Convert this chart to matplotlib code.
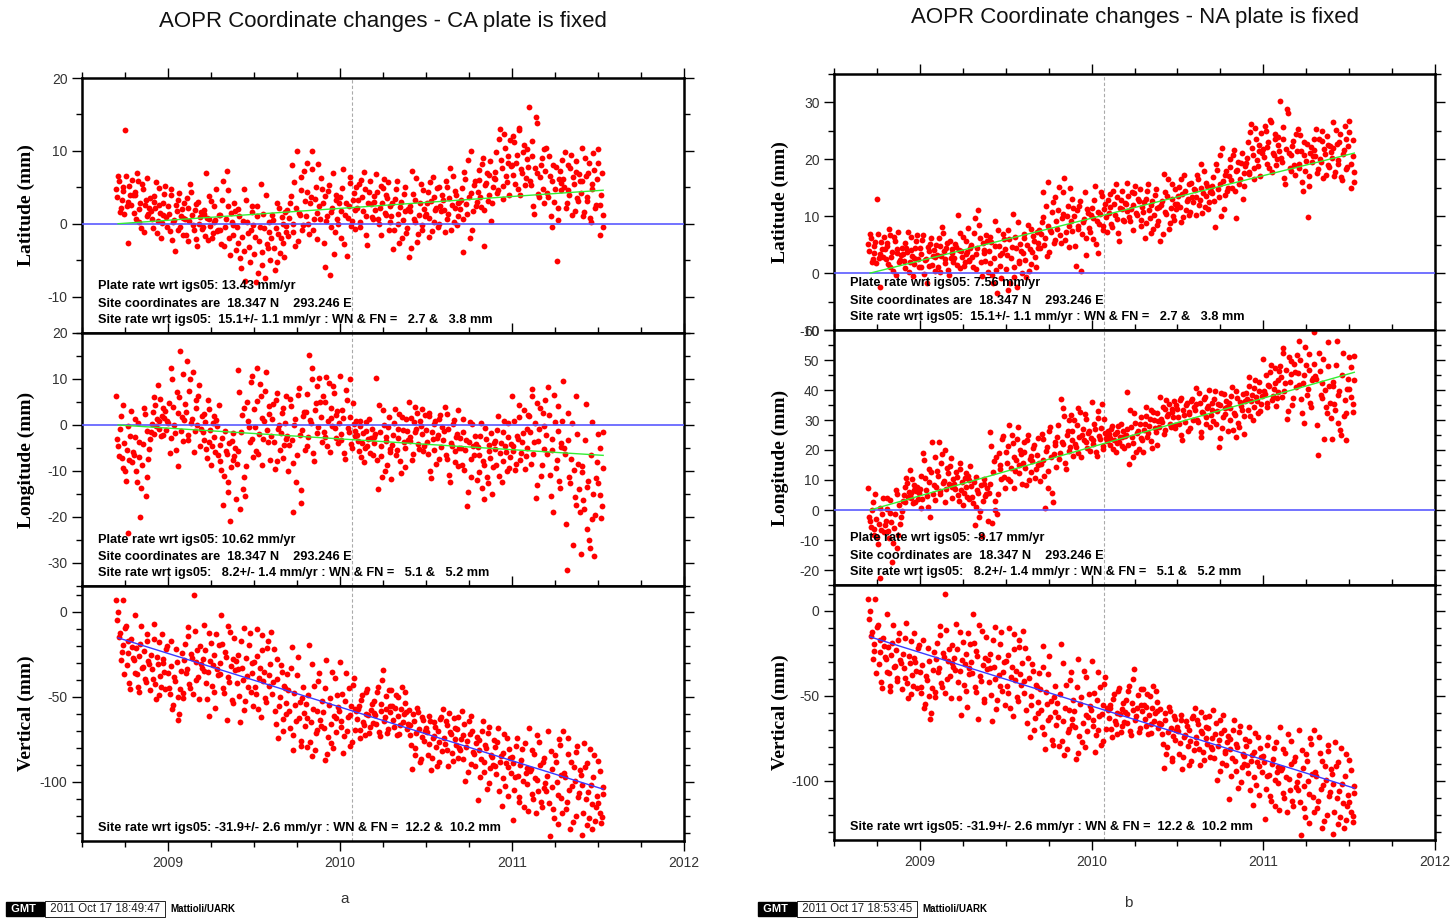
import matplotlib
matplotlib.use("Agg")
import matplotlib.pyplot as plt
from matplotlib.ticker import MultipleLocator
import numpy as np

# epochs: days after 2008.70 (two interleaved sets of daily solutions)
T0 = 2008.70
DAYS = [
    0, 4, 7, 11, 14, 18, 22, 25, 29, 33,
    37, 40, 44, 47, 51, 55, 58, 62, 66, 69,
    73, 77, 80, 84, 88, 91, 95, 98, 102, 106,
    110, 113, 117, 121, 124, 128, 131, 135, 139, 142,
    146, 150, 153, 157, 161, 164, 168, 172, 175, 179,
    183, 186, 190, 194, 197, 201, 205, 208, 212, 215,
    219, 223, 226, 230, 234, 237, 241, 245, 248, 252,
    256, 259, 263, 267, 270, 274, 278, 281, 285, 288,
    292, 296, 299, 303, 307, 310, 314, 318, 321, 325,
    329, 332, 336, 340, 343, 347, 351, 354, 358, 361,
    365, 369, 372, 376, 380, 383, 387, 391, 394, 398,
    402, 405, 409, 413, 416, 420, 424, 427, 431, 434,
    438, 442, 445, 449, 453, 456, 460, 464, 467, 471,
    475, 478, 482, 486, 489, 493, 497, 500, 504, 507,
    511, 515, 518, 522, 526, 529, 533, 537, 540, 544,
    548, 551, 555, 559, 562, 566, 570, 573, 577, 580,
    584, 588, 591, 595, 599, 602, 606, 610, 613, 617,
    621, 624, 628, 632, 635, 639, 643, 646, 650, 653,
    657, 661, 664, 668, 672, 675, 679, 683, 686, 690,
    694, 697, 701, 705, 708, 712, 716, 719, 723, 726,
    730, 734, 737, 741, 745, 748, 752, 756, 759, 763,
    767, 770, 774, 778, 781, 785, 789, 792, 796, 799,
    803, 807, 810, 814, 818, 821, 825, 829, 832, 836,
    840, 843, 847, 851, 854, 858, 862, 865, 869, 872,
    876, 880, 883, 887, 891, 894, 898, 902, 905, 909,
    913, 916, 920, 924, 927, 931, 935, 938, 942, 945,
    949, 953, 956, 960, 964, 967, 971, 975, 978, 982,
    986, 989, 993, 997, 1000, 1004, 1008, 1011, 1015, 1018,
    1022, 1026, 1030, 1034,
]
DAYS_B = [
    2, 6, 9, 13, 16, 20, 24, 27, 31, 35,
    39, 42, 46, 49, 53, 57, 60, 64, 68, 71,
    75, 79, 82, 86, 90, 93, 97, 100, 104, 108,
    112, 115, 119, 123, 126, 130, 133, 137, 141, 144,
    148, 152, 155, 159, 163, 166, 170, 174, 177, 181,
    185, 188, 192, 196, 199, 203, 207, 210, 214, 217,
    221, 225, 228, 232, 236, 239, 243, 247, 250, 254,
    258, 261, 265, 269, 272, 276, 280, 283, 287, 290,
    294, 298, 301, 305, 309, 312, 316, 320, 323, 327,
    331, 334, 338, 342, 345, 349, 353, 356, 360, 363,
    367, 371, 374, 378, 382, 385, 389, 393, 396, 400,
    404, 407, 411, 415, 418, 422, 426, 429, 433, 436,
    440, 444, 447, 451, 455, 458, 462, 466, 469, 473,
    477, 480, 484, 488, 491, 495, 499, 502, 506, 509,
    513, 517, 520, 524, 528, 531, 535, 539, 542, 546,
    550, 553, 557, 561, 564, 568, 572, 575, 579, 582,
    586, 590, 593, 597, 601, 604, 608, 612, 615, 619,
    623, 626, 630, 634, 637, 641, 645, 648, 652, 655,
    659, 663, 666, 670, 674, 677, 681, 685, 688, 692,
    696, 699, 703, 707, 710, 714, 718, 721, 725, 728,
    732, 736, 739, 743, 747, 750, 754, 758, 761, 765,
    769, 772, 776, 780, 783, 787, 791, 794, 798, 801,
    805, 809, 812, 816, 820, 823, 827, 831, 834, 838,
    842, 845, 849, 853, 856, 860, 864, 867, 871, 874,
    878, 882, 885, 889, 893, 896, 900, 904, 907, 911,
    915, 918, 922, 926, 929, 933, 937, 940, 944, 947,
    951, 955, 958, 962, 966, 969, 973, 977, 980, 984,
    988, 991, 995, 999, 1002, 1006, 1010, 1013, 1017, 1020,
    1023, 1027, 1031, 1033,
]

# CA plate fixed
LAT_CA = [
    4.8, 6.5, 1.6, 3.2, 5.1, 12.8, 2.4, -2.7, 3.9, 6.0,
    1.5, 4.4, 6.9, 0.2, 2.8, 5.5, -1.2, 3.3, 1.0, 2.2,
    1.8, -0.6, 3.0, 5.7, 0.4, 2.6, -2.0, 1.2, 4.1, 0.9,
    2.5, -1.0, 4.7, 0.3, -3.7, 1.8, 3.2, -0.5, 2.0, 0.8,
    0.6, 3.5, -2.4, 5.5, 1.2, -0.8, 2.7, -3.0, 0.0, 1.6,
    -0.5, 1.4, 7.0, -2.3, 0.6, 3.1, -1.3, 0.2, 4.8, -0.9,
    1.2, -2.8, 5.9, -0.4, 7.3, 2.4, -4.3, 0.3, -1.6, 1.8,
    -0.5, 2.0, -4.7, -1.8, 4.8, -7.9, 0.3, -3.2, -0.8, 1.6,
    -4.2, -8.0, 1.0, -2.4, 5.4, -5.6, -0.6, 3.9, -3.3, -1.2,
    -2.0, 0.5, -6.3, 2.8, -1.4, -4.0, 0.9, -2.7, 1.6, -0.3,
    -1.7, 2.9, 8.1, 0.0, -3.1, 10.0, 1.5, 4.6, -0.8, 7.2,
    1.0, 8.4, -1.4, 3.7, 10.0, 0.6, 5.1, -2.1, 2.4, 6.3,
    2.8, -6.0, 0.4, 4.5, -7.0, 1.6, 6.9, -1.1, 3.3, 0.0,
    3.6, -1.9, 7.5, 1.2, -4.4, 2.5, 5.6, 0.4, 4.2, -0.7,
    2.1, 5.4, -0.4, 3.6, 7.1, 1.0, -2.9, 4.4, 2.7, 0.6,
    3.0, 6.8, 0.7, 2.2, -1.5, 4.9, 1.5, 3.9, 5.7, 0.2,
    1.0, -3.5, 3.4, 5.9, 0.0, 2.3, -1.9, 4.1, 1.7, -0.6,
    -4.6, 2.5, 7.3, 0.6, 3.3, -2.5, 1.2, 5.5, -0.9, 2.0,
    1.3, 4.4, -1.8, 3.1, 6.4, 0.3, 2.2, -0.5, 5.1, 1.7,
    3.2, -1.2, 5.1, 1.4, 7.7, 2.6, 0.2, 4.5, -0.2, 2.9,
    2.0, 4.9, -3.9, 6.2, 1.3, 3.6, 10.0, -0.8, 5.3, 2.4,
    4.4, 7.4, 2.3, 9.0, -3.0, 5.6, 3.1, 6.7, 0.4, 5.0,
    6.2, 9.8, 4.6, 13.0, 7.6, 3.4, 10.4, 5.7, 8.3, 11.5,
    8.1, 12.1, 5.5, 9.4, 13.2, 4.0, 7.0, 10.8, 6.3, 8.9,
    16.0, 5.3, 9.3, 1.3, 14.6, 6.9, 3.6, 8.1, 4.7, 10.2,
    10.4, 3.6, 6.5, -0.5, 8.1, 4.8, -5.1, 2.2, 7.3, 5.6,
    6.1, 9.8, 2.8, 4.6, 7.7, 1.2, 5.4, 8.6, 3.5, 6.8,
    4.2, 10.4, 1.6, 6.6, 3.1, 8.3, 0.2, 5.5, 7.4, 2.6,
    10.2, -1.5, 4.0, 1.2,
]
LAT_CA_B = [
    3.6, 5.9, 2.1, 4.5, 1.4, 6.6, 3.0, 5.2, 2.6, 4.0,
    3.9, 0.7, 5.8, 2.0, -0.6, 4.7, 2.6, 6.3, 1.4, 3.5,
    0.6, 3.8, 2.2, -1.3, 4.9, 1.5, 0.1, 2.9, 5.2, -0.4,
    1.3, 3.9, -2.2, 0.5, 2.6, -0.8, 4.2, 1.0, -1.6, 2.9,
    -1.5, 2.1, 0.4, 4.4, -0.2, 1.9, -2.1, 3.0, 0.9, -0.7,
    1.9, -1.7, 0.8, 3.8, -0.3, -2.0, 2.4, 0.5, -1.0, 1.2,
    -0.9, 3.3, -3.0, 0.7, 4.6, -1.9, 1.5, -0.2, 2.9, -3.6,
    -2.6, 1.0, -6.1, 0.4, -3.8, 3.2, -1.3, -5.3, 2.4, -0.2,
    -1.8, 2.5, -6.8, -0.4, -3.9, 1.4, -7.4, -2.8, 0.2, -5.0,
    1.2, -3.3, -0.6, -5.2, 2.2, -1.9, 0.0, -4.6, -1.1, 1.9,
    0.8, 3.8, -1.2, 5.7, 2.2, -2.4, 1.2, 6.4, -0.2, 3.1,
    4.4, 0.0, 2.9, 7.5, -0.9, 3.4, 1.5, 8.2, 0.7, 4.8,
    -2.6, 3.8, 1.0, 5.3, -0.5, 2.2, -4.1, 4.0, 0.6, 2.9,
    1.7, 4.9, -2.8, 2.9, 0.8, 6.4, -0.3, 3.3, 1.9, 5.0,
    3.2, 0.2, 6.0, 1.8, 4.8, -1.5, 2.9, 5.9, 0.9, 3.8,
    1.9, 4.4, 0.0, 5.2, 2.8, 6.2, 1.2, 3.5, -0.8, 2.5,
    2.8, -0.9, 4.7, 1.4, -2.7, 3.0, 0.5, 5.1, -1.3, 2.0,
    1.8, -3.3, 4.1, 0.2, 6.3, -1.4, 2.8, -0.2, 4.6, 1.0,
    2.8, 0.8, 5.7, -1.0, 3.6, 1.9, 4.9, 0.0, 2.5, 3.9,
    1.9, 5.9, 0.6, 3.5, -0.8, 6.5, 2.2, 4.0, 1.1, 3.0,
    3.3, 0.6, 7.1, 2.7, 8.8, -2.0, 4.2, 1.8, 5.9, 3.0,
    6.0, 3.7, 8.2, 1.9, 5.3, 7.0, 4.0, 8.6, 2.8, 6.3,
    7.1, 4.2, 11.6, 8.8, 5.2, 12.3, 6.6, 9.3, 3.9, 7.9,
    6.7, 11.2, 8.4, 4.7, 12.8, 7.5, 9.8, 5.3, 10.3, 7.8,
    5.9, 11.4, 2.4, 7.6, 13.8, 4.1, 6.4, 9.0, 2.9, 7.2,
    4.2, 9.3, 1.1, 5.9, 3.0, 7.8, 0.5, 6.2, 4.6, 8.7,
    5.0, 2.1, 8.1, 4.0, 9.4, 6.4, 1.8, 7.1, 3.1, 5.8,
    5.9, 1.0, 9.0, 3.7, 6.9, 0.8, 4.8, 9.7, 2.2, 6.2,
    8.3, 2.6, 6.9, -0.4,
]
LON_CA = [
    6.3, -4.6, -0.8, -7.2, 4.4, -10.0, -5.5, -23.5, -2.3, -8.1,
    -6.5, 1.3, -12.3, -3.8, -20.0, -8.8, 3.8, -15.5, -1.2, -5.2,
    -1.6, 2.8, 6.1, -0.3, 8.7, 0.9, -2.3, 3.6, 1.5, -1.0,
    0.5, -6.0, 12.3, 3.9, -1.8, 7.2, -9.0, 16.0, 1.8, -3.4,
    4.6, 14.0, -2.1, 10.1, 1.2, -5.8, 5.4, 0.0, 8.7, -0.9,
    -1.6, 2.3, -5.2, 5.5, -3.7, -8.6, 0.4, -2.7, 1.1, -6.5,
    -4.3, -9.8, -17.3, -1.2, -6.4, -12.4, -20.8, -3.5, -7.6, -5.0,
    -8.4, 12.0, -18.3, 2.1, -11.2, -15.5, 4.9, -0.5, 9.4, -3.1,
    3.4, -5.6, 12.5, -1.9, 6.2, -8.7, 0.8, 11.6, -3.6, 2.5,
    -2.4, 4.6, -9.6, 7.0, -0.9, -5.4, 2.7, -7.1, 0.5, -3.0,
    -10.1, 5.6, -3.2, -19.0, 1.4, -6.6, 8.0, -14.1, -1.1, 2.9,
    2.9, -4.6, 15.3, 0.4, 9.9, -7.9, 4.7, -1.8, 10.2, 1.8,
    6.4, -2.6, 10.5, 0.9, -5.8, 3.6, 8.4, -0.7, 2.1, -3.9,
    10.7, -3.3, 1.5, -7.3, 5.4, -1.6, 10.1, -5.0, 0.2, -2.4,
    -2.1, -5.6, 0.8, -3.9, -8.0, -1.3, -4.6, 1.3, -2.8, -6.5,
    -4.0, 10.3, -13.9, -1.5, -6.8, 3.2, -9.9, -2.6, -0.4, -5.2,
    -11.8, -2.2, 3.4, -5.4, -0.8, -7.9, 1.7, -3.6, -9.2, -1.4,
    4.9, -3.4, -7.7, 0.7, -1.5, 2.6, -5.3, -0.2, 3.5, -4.6,
    -1.0, -6.2, 2.6, -11.5, -3.1, 0.3, -8.4, -2.2, 1.4, -4.7,
    -3.3, 3.9, -7.3, -0.9, -12.4, -4.5, 1.1, -5.6, -2.0, -9.0,
    -2.9, -8.7, 1.3, -5.5, -17.5, -3.6, -11.2, 0.2, -6.6, -4.1,
    -4.8, -10.3, 0.5, -7.9, -16.0, -3.1, -12.6, -5.6, -1.7, -9.2,
    -3.4, -8.8, 1.9, -6.1, -12.3, -1.5, -4.6, -10.0, 0.4, -6.9,
    6.3, -5.6, -9.8, -2.4, 1.7, -7.6, -3.8, 3.2, -6.8, -0.8,
    1.9, -8.4, 7.9, -3.6, -15.8, 4.8, -0.9, -11.1, 2.6, -5.2,
    -2.1, 8.3, -10.8, -5.4, -18.9, 0.6, -7.7, 4.2, -13.6, -4.0,
    9.5, -6.2, -31.5, -3.3, -12.6, 0.4, -9.8, -17.4, -1.9, -14.0,
    -28.0, -10.2, -18.3, 4.5, -13.4, -25.1, -6.6, -20.4, -28.5, -11.5,
    -2.0, -15.3, -20.2, -9.4,
]
LON_CA_B = [
    -3.1, -6.7, 1.9, -9.3, -4.0, -12.2, -0.3, -7.7, 3.0, -5.9,
    -2.6, -9.9, 0.4, -6.9, -13.8, -4.2, 2.4, -11.2, -7.4, -3.0,
    0.3, -1.9, 4.4, 1.2, -0.8, 5.6, 2.0, -2.2, 3.1, 0.8,
    4.8, -2.9, 9.9, 0.0, -5.5, 2.6, 6.0, -1.3, 11.0, 1.0,
    2.8, -3.2, 7.3, 0.5, 11.6, -1.4, 3.7, 6.3, -4.6, 1.9,
    -3.3, 0.6, -7.2, 3.5, -1.1, -4.6, 1.9, -5.9, -0.3, 4.3,
    -7.8, -2.8, -11.1, -5.7, -14.6, -3.9, -9.1, -1.8, -6.8, -16.0,
    -5.6, 7.2, -1.6, -14.0, 3.6, -8.9, 0.9, -3.8, 10.6, -6.9,
    -0.5, 5.3, -6.4, 9.0, 1.6, -3.0, 7.5, -1.1, 4.1, -7.5,
    1.4, -3.8, 5.4, -7.8, 0.0, -1.7, 3.6, -4.3, 6.2, -2.3,
    -4.4, 4.1, -8.3, 0.1, -12.3, 6.6, -2.2, -17.0, 1.9, -5.4,
    6.8, -2.7, 1.1, 12.4, -6.1, 3.3, 8.4, -0.5, 4.9, -3.6,
    -1.6, 4.9, -4.5, 9.1, 1.5, -0.2, 6.9, -2.9, 3.0, 0.4,
    -2.0, 3.2, -6.1, 7.6, -0.6, 1.8, -4.2, 4.8, -1.3, 0.9,
    -3.4, -0.2, -7.0, -1.8, -4.9, 0.6, -3.0, -6.0, -0.9, -2.5,
    -2.0, -7.6, 4.3, -4.6, -11.3, 0.0, -3.4, -8.8, 1.8, -5.8,
    -4.4, 0.4, -6.6, -2.9, 2.5, -10.4, -1.0, -5.0, 1.2, -3.2,
    -2.7, 1.6, -6.2, 3.9, -0.8, -4.1, 0.9, -2.0, -5.7, 2.2,
    -3.8, 1.9, -9.9, -1.5, -5.4, 0.8, -2.9, -7.3, 2.1, -0.4,
    -1.4, -6.6, 2.4, -10.8, -3.9, 0.3, -8.1, -2.7, 3.2, -4.9,
    -5.1, -1.6, -9.8, -3.2, -14.6, 0.6, -7.4, -4.5, -2.3, -12.0,
    -6.5, -2.4, -13.8, -8.6, -0.6, -11.4, -4.4, -7.1, -14.9, -3.9,
    -5.3, -1.0, -11.0, -3.9, -7.8, 0.9, -5.9, -2.7, -9.4, -4.2,
    -4.6, 0.8, -8.4, -3.0, 4.3, -6.1, -1.7, -9.5, -5.0, 2.1,
    -1.6, 6.2, -6.4, 0.5, -13.1, -3.4, 3.7, -8.8, -0.2, 5.5,
    -6.2, 2.1, -15.5, -3.0, 6.6, -9.4, -1.2, -12.1, -4.7, 0.9,
    -5.0, -21.5, 2.6, -11.4, -7.3, -26.0, -15.6, 6.3, -8.4, -19.0,
    -9.0, -16.2, -3.2, -22.6, -12.1, -26.8, 0.7, -15.0, -19.5, -8.1,
    -12.6, -5.1, -17.7, -1.6,
]
# vertical is the same in both plate frames
VERT = [
    6.7, 0.0, -12.5, -24.0, 7.0, -9.8, -31.2, -17.6, -45.8, -21.0,
    -28.4, -1.8, -36.5, -47.6, -18.9, -33.1, -23.3, -41.7, -13.5, -30.6,
    -25.7, -39.8, -7.4, -51.5, -31.0, -18.0, -44.6, -28.2, -35.3, -22.1,
    -36.4, -48.8, -17.2, -55.0, -41.1, -29.7, -63.8, -45.6, -24.3, -51.0,
    -19.3, -33.8, -9.1, -45.2, -27.5, 10.0, -40.4, -22.6, -51.7, -30.9,
    -27.8, -8.2, -41.9, -35.4, -61.5, -18.7, -31.3, -47.1, -13.4, -37.6,
    -30.2, -2.3, -44.9, -23.6, -63.7, -38.8, -12.1, -51.9, -28.0, -34.7,
    -42.0, -25.4, -64.8, -33.3, -9.6, -52.8, -37.9, -19.8, -47.1, -30.2,
    -29.6, -48.3, -10.5, -39.0, -61.9, -22.7, -35.4, -53.4, -17.3, -43.8,
    -12.1, -41.5, -58.4, -27.8, -74.6, -50.3, -35.6, -63.0, -45.2, -53.9,
    -46.4, -68.7, -21.1, -81.7, -55.0, -37.5, -62.8, -76.2, -50.9, -59.6,
    -54.3, -79.8, -19.9, -65.2, -84.9, -43.7, -71.5, -58.6, -36.2, -67.4,
    -59.0, -87.6, -28.3, -73.8, -50.6, -66.2, -80.4, -38.9, -62.9, -56.1,
    -29.6, -64.3, -83.1, -52.4, -70.5, -45.0, -60.8, -76.6, -39.4, -57.1,
    -63.4, -55.8, -74.6, -49.1, -67.0, -60.2, -45.3, -71.7, -58.0, -65.5,
    -52.6, -66.1, -44.3, -73.5, -58.7, -34.6, -61.9, -49.8, -69.2, -55.4,
    -46.2, -63.8, -57.0, -72.9, -50.5, -66.7, -44.4, -60.1, -53.6, -69.4,
    -58.2, -72.5, -92.4, -64.6, -80.1, -56.5, -69.3, -86.7, -61.8, -75.9,
    -68.5, -84.2, -61.3, -93.0, -74.7, -65.0, -79.9, -70.4, -88.6, -62.2,
    -57.4, -77.9, -66.8, -90.6, -71.0, -83.5, -62.5, -75.1, -69.0, -86.3,
    -81.2, -58.4, -72.7, -99.6, -76.3, -64.5, -89.8, -70.0, -83.9, -77.5,
    -110.8, -75.4, -86.9, -64.7, -94.4, -80.1, -71.5, -100.6, -84.3, -90.2,
    -79.5, -95.8, -68.6, -88.3, -114.6, -83.0, -102.5, -74.2, -91.7, -86.0,
    -85.6, -122.6, -97.3, -74.4, -108.9, -90.1, -80.7, -115.0, -94.8, -101.2,
    -68.3, -92.5, -107.4, -84.1, -118.8, -99.0, -76.9, -112.3, -88.7, -103.6,
    -105.8, -70.4, -131.9, -92.6, -116.4, -84.2, -100.3, -125.0, -78.5, -109.7,
    -70.2, -97.6, -111.8, -84.0, -127.9, -102.5, -91.2, -120.3, -79.1, -106.7,
    -96.3, -131.6, -77.5, -110.4, -88.9, -121.7, -101.8, -128.0, -84.6, -115.2,
    -88.0, -118.4, -124.2, -103.5,
]
VERT_B = [
    -5.2, -14.8, -28.3, -19.5, -36.8, -8.4, -24.7, -42.1, -15.9, -27.5,
    -35.9, -21.6, -44.3, -26.4, -8.8, -32.7, -39.5, -17.1, -29.4, -46.2,
    -33.6, -16.2, -42.5, -26.9, -49.0, -37.8, -13.1, -30.2, -45.7, -20.4,
    -44.8, -32.3, -57.4, -38.7, -22.0, -50.3, -60.2, -35.1, -47.9, -28.6,
    -36.2, -14.6, -42.9, -25.0, -48.6, -11.7, -29.8, -38.5, -20.3, -33.0,
    -35.1, -22.4, -51.3, -12.9, -29.0, -44.0, -25.6, -56.8, -33.9, -19.6,
    -36.9, -19.0, -47.7, -26.5, -8.8, -41.4, -31.9, -53.9, -15.6, -29.4,
    -33.7, -49.6, -17.3, -40.5, -58.2, -27.1, -44.3, -12.4, -36.0, -55.5,
    -44.6, -26.1, -57.1, -33.2, -14.0, -40.9, -50.8, -21.3, -37.4, -30.7,
    -48.8, -22.0, -66.2, -39.7, -55.3, -31.6, -70.1, -43.9, -60.5, -37.0,
    -58.3, -33.0, -72.4, -48.0, -64.2, -26.5, -53.4, -79.0, -44.2, -67.1,
    -62.4, -48.9, -76.9, -31.0, -57.5, -81.3, -69.6, -40.8, -63.8, -52.6,
    -68.7, -45.2, -84.0, -54.8, -77.2, -35.5, -61.4, -70.9, -49.3, -58.5,
    -67.8, -48.6, -73.2, -35.9, -62.1, -79.4, -55.3, -43.1, -69.9, -58.6,
    -57.4, -69.9, -52.0, -64.8, -72.5, -47.6, -61.1, -67.9, -54.7, -59.8,
    -61.0, -47.3, -70.6, -54.4, -40.2, -64.5, -57.5, -71.6, -45.9, -59.3,
    -55.8, -68.2, -49.1, -61.5, -71.8, -57.3, -64.9, -47.6, -59.0, -66.1,
    -66.9, -78.3, -60.1, -84.4, -71.5, -58.9, -88.6, -73.6, -63.9, -70.2,
    -70.8, -78.1, -64.6, -86.3, -73.5, -67.9, -91.1, -76.7, -63.0, -81.9,
    -74.6, -64.3, -81.6, -59.8, -72.2, -87.9, -68.7, -78.5, -62.1, -80.2,
    -75.2, -86.9, -66.2, -79.9, -94.3, -71.9, -61.3, -82.5, -91.0, -73.7,
    -81.7, -97.3, -70.0, -88.6, -78.4, -104.5, -67.9, -92.0, -85.4, -75.8,
    -91.1, -77.0, -105.6, -84.9, -97.9, -71.8, -89.2, -108.7, -80.6, -94.9,
    -89.3, -104.8, -79.1, -96.6, -112.0, -87.2, -99.8, -77.3, -92.1, -117.6,
    -93.9, -81.6, -110.1, -97.7, -72.9, -105.3, -90.4, -114.9, -86.0, -100.8,
    -97.0, -112.6, -81.8, -103.1, -121.4, -88.6, -107.9, -75.0, -96.1, -118.3,
    -95.2, -116.3, -74.5, -104.8, -88.3, -123.6, -99.7, -82.7, -109.4, -93.5,
    -102.2, -118.6, -91.5, -125.3, -106.4, -80.9, -113.1, -97.5, -123.0, -108.8,
    -112.9, -94.1, -121.0, -107.2,
]

# NA plate fixed
LAT_NA = [
    5.1, 6.8, 1.9, 3.5, 5.4, 13.1, 2.7, -2.4, 4.2, 6.3,
    2.4, 5.3, 7.8, 1.1, 3.7, 6.4, -0.3, 4.2, 1.9, 3.1,
    3.3, 0.9, 4.5, 7.2, 1.9, 4.1, -0.5, 2.7, 5.6, 2.4,
    4.5, 1.0, 6.7, 2.3, -1.7, 3.8, 5.2, 1.5, 4.0, 2.8,
    3.2, 6.1, 0.2, 8.1, 3.8, 1.8, 5.3, -0.4, 2.6, 4.2,
    2.7, 4.6, 10.2, 0.9, 3.8, 6.3, 1.9, 3.4, 8.0, 2.3,
    5.0, 1.0, 9.7, 3.4, 11.1, 6.2, -0.5, 4.1, 2.2, 5.6,
    3.9, 6.4, -0.3, 2.6, 9.2, -3.5, 4.7, 1.2, 3.6, 6.0,
    0.8, -3.0, 6.0, 2.6, 10.4, -0.6, 4.4, 8.9, 1.7, 3.8,
    3.6, 6.1, -0.7, 8.4, 4.2, 1.6, 6.5, 2.9, 7.2, 5.3,
    4.4, 9.0, 14.2, 6.1, 3.0, 16.1, 7.6, 10.7, 5.3, 13.3,
    7.7, 15.1, 5.3, 10.4, 16.7, 7.3, 11.8, 4.6, 9.1, 13.0,
    10.1, 1.3, 7.7, 11.8, 0.3, 8.9, 14.2, 6.2, 10.6, 7.3,
    11.5, 6.0, 15.4, 9.1, 3.5, 10.4, 13.5, 8.3, 12.1, 7.2,
    10.6, 13.9, 8.1, 12.1, 15.6, 9.5, 5.6, 12.9, 11.2, 9.1,
    12.1, 15.9, 9.8, 11.3, 7.6, 14.0, 10.6, 13.0, 14.8, 9.3,
    10.7, 6.2, 13.1, 15.6, 9.7, 12.0, 7.8, 13.8, 11.4, 9.1,
    5.6, 12.7, 17.5, 10.8, 13.5, 7.7, 11.4, 15.7, 9.3, 12.2,
    12.1, 15.2, 9.0, 13.9, 17.2, 11.1, 13.0, 10.3, 15.9, 12.5,
    14.6, 10.2, 16.5, 12.8, 19.1, 14.0, 11.6, 15.9, 11.2, 14.3,
    14.0, 16.9, 8.1, 18.2, 13.3, 15.6, 22.0, 11.2, 17.3, 14.4,
    17.0, 20.0, 14.9, 21.6, 9.6, 18.2, 15.7, 19.3, 13.0, 17.6,
    19.4, 23.0, 17.8, 26.2, 20.8, 16.6, 23.6, 18.9, 21.5, 24.7,
    21.8, 25.8, 19.2, 23.1, 26.9, 17.7, 20.7, 24.5, 20.0, 22.6,
    30.3, 19.6, 23.6, 15.6, 28.9, 21.2, 17.9, 22.4, 19.0, 24.5,
    25.3, 18.5, 21.4, 14.4, 23.0, 19.7, 9.8, 17.1, 22.2, 20.5,
    21.6, 25.3, 18.3, 20.1, 23.2, 16.7, 20.9, 24.1, 19.0, 22.3,
    20.3, 26.5, 17.7, 22.7, 19.2, 24.4, 16.3, 21.6, 23.5, 18.7,
    26.7, 15.0, 20.5, 17.7,
]
LAT_NA_B = [
    3.9, 6.2, 2.4, 4.8, 1.7, 6.9, 3.3, 5.5, 2.9, 4.3,
    4.8, 1.6, 6.7, 2.9, 0.3, 5.6, 3.5, 7.2, 2.3, 4.4,
    2.1, 5.3, 3.7, 0.2, 6.4, 3.0, 1.6, 4.4, 6.7, 1.1,
    3.3, 5.9, -0.2, 2.5, 4.6, 1.2, 6.2, 3.0, 0.4, 4.9,
    1.1, 4.7, 3.0, 7.0, 2.4, 4.5, 0.5, 5.6, 3.5, 1.9,
    5.1, 1.5, 4.0, 7.0, 2.9, 1.2, 5.6, 3.7, 2.2, 4.4,
    2.9, 7.1, 0.8, 4.5, 8.4, 1.9, 5.3, 3.6, 6.7, 0.2,
    1.8, 5.4, -1.7, 4.8, 0.6, 7.6, 3.1, -0.9, 6.8, 4.2,
    3.2, 7.5, -1.8, 4.6, 1.1, 6.4, -2.4, 2.2, 5.2, 0.0,
    6.8, 2.3, 5.0, 0.4, 7.8, 3.7, 5.6, 1.0, 4.5, 7.5,
    6.9, 9.9, 4.9, 11.8, 8.3, 3.7, 7.3, 12.5, 5.9, 9.2,
    11.1, 6.7, 9.6, 14.2, 5.8, 10.1, 8.2, 14.9, 7.4, 11.5,
    4.7, 11.1, 8.3, 12.6, 6.8, 9.5, 3.2, 11.3, 7.9, 10.2,
    9.6, 12.8, 5.1, 10.8, 8.7, 14.3, 7.6, 11.2, 9.8, 12.9,
    11.7, 8.7, 14.5, 10.3, 13.3, 7.0, 11.4, 14.4, 9.4, 12.3,
    11.0, 13.5, 9.1, 14.3, 11.9, 15.3, 10.3, 12.6, 8.3, 11.6,
    12.5, 8.8, 14.4, 11.1, 7.0, 12.7, 10.2, 14.8, 8.4, 11.7,
    12.0, 6.9, 14.3, 10.4, 16.5, 8.8, 13.0, 10.0, 14.8, 11.2,
    13.6, 11.6, 16.5, 9.8, 14.4, 12.7, 15.7, 10.8, 13.3, 14.7,
    13.3, 17.3, 12.0, 14.9, 10.6, 17.9, 13.6, 15.4, 12.5, 14.4,
    15.3, 12.6, 19.1, 14.7, 20.8, 10.0, 16.2, 13.8, 17.9, 15.0,
    18.6, 16.3, 20.8, 14.5, 17.9, 19.6, 16.6, 21.2, 15.4, 18.9,
    20.3, 17.4, 24.8, 22.0, 18.4, 25.5, 19.8, 22.5, 17.1, 21.1,
    20.4, 24.9, 22.1, 18.4, 26.5, 21.2, 23.5, 19.0, 24.0, 21.5,
    20.2, 25.7, 16.7, 21.9, 28.1, 18.4, 20.7, 23.3, 17.2, 21.5,
    19.1, 24.2, 16.0, 20.8, 17.9, 22.7, 15.4, 21.1, 19.5, 23.6,
    20.5, 17.6, 23.6, 19.5, 24.9, 21.9, 17.3, 22.6, 18.6, 21.3,
    22.0, 17.1, 25.1, 19.8, 23.0, 16.9, 20.9, 25.8, 18.3, 22.3,
    24.8, 19.1, 23.4, 16.1,
]
LON_NA = [
    7.2, -3.7, 0.1, -6.3, 5.3, -9.1, -4.6, -22.6, -1.4, -7.2,
    -3.7, 4.1, -9.5, -1.0, -17.2, -6.0, 6.6, -12.7, 1.6, -2.4,
    3.1, 7.5, 10.8, 4.4, 13.4, 5.6, 2.4, 8.3, 6.2, 3.7,
    7.1, 0.6, 18.9, 10.5, 4.8, 13.8, -2.4, 22.6, 8.4, 3.2,
    13.1, 22.5, 6.4, 18.6, 9.7, 2.7, 13.9, 8.5, 17.2, 7.6,
    8.7, 12.6, 5.1, 15.8, 6.6, 1.7, 10.7, 7.6, 11.4, 3.8,
    7.9, 2.4, -5.1, 11.0, 5.8, -0.2, -8.6, 8.7, 4.6, 7.2,
    5.7, 26.1, -4.2, 16.2, 2.9, -1.4, 19.0, 13.6, 23.5, 11.0,
    19.4, 10.4, 28.5, 14.1, 22.2, 7.3, 16.8, 27.6, 12.4, 18.5,
    15.5, 22.5, 8.3, 24.9, 17.0, 12.5, 20.6, 10.8, 18.4, 14.9,
    9.6, 25.3, 16.5, 0.7, 21.1, 13.1, 27.7, 5.6, 18.6, 22.6,
    24.5, 17.0, 36.9, 22.0, 31.5, 13.7, 26.3, 19.8, 31.8, 23.4,
    29.9, 20.9, 34.0, 24.4, 17.7, 27.1, 31.9, 22.8, 25.6, 19.6,
    36.1, 22.1, 26.9, 18.1, 30.8, 23.8, 35.5, 20.4, 25.6, 23.0,
    25.2, 21.7, 28.1, 23.4, 19.3, 26.0, 22.7, 28.6, 24.5, 20.8,
    25.1, 39.4, 15.2, 27.6, 22.3, 32.3, 19.2, 26.5, 28.7, 23.9,
    19.2, 28.8, 34.4, 25.6, 30.2, 23.1, 32.7, 27.4, 21.8, 29.6,
    37.8, 29.5, 25.2, 33.6, 31.4, 35.5, 27.6, 32.7, 36.4, 28.3,
    33.8, 28.6, 37.4, 23.3, 31.7, 35.1, 26.4, 32.6, 36.2, 30.1,
    33.4, 40.6, 29.4, 35.8, 24.3, 32.2, 37.8, 31.1, 34.7, 27.7,
    35.6, 29.8, 39.8, 33.0, 21.0, 34.9, 27.3, 38.7, 31.9, 34.4,
    35.6, 30.1, 40.9, 32.5, 24.4, 37.3, 27.8, 34.8, 38.7, 31.2,
    38.9, 33.5, 44.2, 36.2, 30.0, 40.8, 37.7, 32.3, 42.7, 35.4,
    50.5, 38.6, 34.4, 41.8, 45.9, 36.6, 40.4, 47.4, 37.4, 43.4,
    48.0, 37.7, 54.0, 42.5, 30.3, 50.9, 45.2, 35.0, 48.7, 40.9,
    45.8, 56.2, 37.1, 42.5, 29.0, 48.5, 40.2, 52.1, 34.3, 43.9,
    59.3, 43.6, 18.3, 46.5, 37.2, 50.2, 40.0, 32.4, 47.9, 35.8,
    23.7, 41.5, 33.4, 56.2, 38.3, 26.6, 45.1, 31.3, 23.2, 40.2,
    50.9, 37.6, 32.7, 43.5,
]
LON_NA_B = [
    -2.2, -5.8, 2.8, -8.4, -3.1, -11.3, 0.6, -6.8, 3.9, -5.0,
    0.2, -7.1, 3.2, -4.1, -11.0, -1.4, 5.2, -8.4, -4.6, -0.2,
    5.0, 2.8, 9.1, 5.9, 3.9, 10.3, 6.7, 2.5, 7.8, 5.5,
    11.4, 3.7, 16.5, 6.6, 1.1, 9.2, 12.6, 5.3, 17.6, 7.6,
    11.3, 5.3, 15.8, 9.0, 20.1, 7.1, 12.2, 14.8, 3.9, 10.4,
    7.0, 10.9, 3.1, 13.8, 9.2, 5.7, 12.2, 4.4, 10.0, 14.6,
    4.4, 9.4, 1.1, 6.5, -2.4, 8.3, 3.1, 10.4, 5.4, -3.8,
    8.5, 21.3, 12.5, 0.1, 17.7, 5.2, 15.0, 10.3, 24.7, 7.2,
    15.5, 21.3, 9.6, 25.0, 17.6, 13.0, 23.5, 14.9, 20.1, 8.5,
    19.3, 14.1, 23.3, 10.1, 17.9, 16.2, 21.5, 13.6, 24.1, 15.6,
    15.3, 23.8, 11.4, 19.8, 7.4, 26.3, 17.5, 2.7, 21.6, 14.3,
    28.4, 18.9, 22.7, 34.0, 15.5, 24.9, 30.0, 21.1, 26.5, 18.0,
    21.9, 28.4, 19.0, 32.6, 25.0, 23.3, 30.4, 20.6, 26.5, 23.9,
    23.4, 28.6, 19.3, 33.0, 24.8, 27.2, 21.2, 30.2, 24.1, 26.3,
    23.9, 27.1, 20.3, 25.5, 22.4, 27.9, 24.3, 21.3, 26.4, 24.8,
    27.1, 21.5, 33.4, 24.5, 17.8, 29.1, 25.7, 20.3, 30.9, 23.3,
    26.6, 31.4, 24.4, 28.1, 33.5, 20.6, 30.0, 26.0, 32.2, 27.8,
    30.2, 34.5, 26.7, 36.8, 32.1, 28.8, 33.8, 30.9, 27.2, 35.1,
    31.0, 36.7, 24.9, 33.3, 29.4, 35.6, 31.9, 27.5, 36.9, 34.4,
    35.3, 30.1, 39.1, 25.9, 32.8, 37.0, 28.6, 34.0, 39.9, 31.8,
    33.4, 36.9, 28.7, 35.3, 23.9, 39.1, 31.1, 34.0, 36.2, 26.5,
    33.9, 38.0, 26.6, 31.8, 39.8, 29.0, 36.0, 33.3, 25.5, 36.5,
    37.0, 41.3, 31.3, 38.4, 34.5, 43.2, 36.4, 39.6, 32.9, 38.1,
    39.6, 45.0, 35.8, 41.2, 48.5, 38.1, 42.5, 34.7, 39.2, 46.3,
    44.5, 52.3, 39.7, 46.6, 33.0, 42.7, 49.8, 37.3, 45.9, 51.6,
    41.7, 50.0, 32.4, 44.9, 54.5, 38.5, 46.7, 35.8, 43.2, 48.8,
    44.8, 28.3, 52.4, 38.4, 42.5, 23.8, 34.2, 56.1, 41.4, 30.8,
    42.7, 35.5, 48.5, 29.1, 39.6, 24.9, 52.4, 36.7, 32.2, 43.6,
    40.3, 47.8, 35.2, 51.3,
]

# fitted lines (start / end)
FIT_T = [2008.71, 2011.53]
LAT_CA_FIT = [0.0, 4.6]
LON_CA_FIT = [0.0, -6.6]
VERT_FIT = [-15.5, -104.5]
LAT_NA_FIT = [0.0, 21.1]
LON_NA_FIT = [0.0, 45.9]
EPOCH_MARK = 2010.07

SITE_LINE = "Site coordinates are  18.347 N    293.246 E"
LAT_RATE = "Site rate wrt igs05:  15.1+/- 1.1 mm/yr : WN & FN =   2.7 &   3.8 mm"
LON_RATE = "Site rate wrt igs05:   8.2+/- 1.4 mm/yr : WN & FN =   5.1 &   5.2 mm"
VERT_RATE = "Site rate wrt igs05: -31.9+/- 2.6 mm/yr : WN & FN =  12.2 &  10.2 mm"

t = T0 + np.concatenate([DAYS, DAYS_B]) / 365.25

SANS = "Liberation Sans"
SERIF = "Liberation Serif"
W, H = 1453, 918


def setup_axes(ax, ylim, major, minor, show_x):
    ax.set_xlim(2008.5, 2012)
    ax.set_ylim(*ylim)
    ax.xaxis.set_major_locator(MultipleLocator(1))
    ax.xaxis.set_minor_locator(MultipleLocator(0.25))
    ax.yaxis.set_major_locator(MultipleLocator(major))
    ax.yaxis.set_minor_locator(MultipleLocator(minor))
    ax.tick_params(which="both", direction="out", top=True, right=True,
                   bottom=show_x, labelbottom=show_x, width=1.0,
                   colors="black", labelcolor="#333333", labelsize=10)
    ax.tick_params(which="major", length=7)
    ax.tick_params(which="minor", length=4)
    for lab in ax.get_xticklabels() + ax.get_yticklabels():
        lab.set_fontfamily(SANS)
    ax.xaxis.set_major_formatter(lambda v, p: f"{int(round(v))}")
    ax.yaxis.set_major_formatter(lambda v, p: f"{int(round(v))}")
    for sp in ax.spines.values():
        sp.set_linewidth(1.8)


def draw_panel(ax, vals, fit, fit_color, ylim, major, minor, zero_line, lines, show_x):
    setup_axes(ax, ylim, major, minor, show_x)
    ax.axvline(EPOCH_MARK, color="#aaaaaa", lw=0.8, ls=(0, (3, 2)), zorder=1)
    ax.plot(t, np.concatenate(vals), "o", color="#ff0000", ms=4.2, mew=0, zorder=2)
    if zero_line:
        ax.axhline(0, color="#5a5aff", lw=1.2, zorder=3)
    ax.plot(FIT_T, fit, color=fit_color, lw=1.0, zorder=3)
    ys = [0.183, 0.113, 0.050][-len(lines):]
    for txt, y in zip(lines, ys):
        ax.text(0.027, y, txt, transform=ax.transAxes, fontsize=9.2,
                fontweight="bold", family=SANS, va="center", ha="left", zorder=4)


def make_ax(fig, left, right, top, bottom):
    return fig.add_axes([left / W, 1 - bottom / H, (right - left) / W, (bottom - top) / H])


fig = plt.figure(figsize=(W / 100, H / 100), dpi=100)

# left column - CA plate fixed
ax1 = make_ax(fig, 82, 684, 78, 333)
ax2 = make_ax(fig, 82, 684, 333, 586)
ax3 = make_ax(fig, 82, 684, 586, 841)
draw_panel(ax1, [LAT_CA, LAT_CA_B], LAT_CA_FIT, "#33ee33", (-15, 20), 10, 5, True,
           ["Plate rate wrt igs05: 13.43 mm/yr", SITE_LINE, LAT_RATE], False)
draw_panel(ax2, [LON_CA, LON_CA_B], LON_CA_FIT, "#33ee33", (-35, 20), 10, 5, True,
           ["Plate rate wrt igs05: 10.62 mm/yr", SITE_LINE, LON_RATE], False)
draw_panel(ax3, [VERT, VERT_B], VERT_FIT, "#3a3aff", (-135, 15), 50, 10, False,
           [VERT_RATE], True)

# right column - NA plate fixed
ax4 = make_ax(fig, 834, 1435, 74, 330)
ax5 = make_ax(fig, 834, 1435, 330, 585)
ax6 = make_ax(fig, 834, 1435, 585, 840)
draw_panel(ax4, [LAT_NA, LAT_NA_B], LAT_NA_FIT, "#33ee33", (-10, 35), 10, 5, True,
           ["Plate rate wrt igs05: 7.56 mm/yr", SITE_LINE, LAT_RATE], False)
draw_panel(ax5, [LON_NA, LON_NA_B], LON_NA_FIT, "#33ee33", (-25, 60), 10, 5, True,
           ["Plate rate wrt igs05: -8.17 mm/yr", SITE_LINE, LON_RATE], False)
draw_panel(ax6, [VERT, VERT_B], VERT_FIT, "#3a3aff", (-135, 15), 50, 10, False,
           [VERT_RATE], True)

# titles
fig.text(383 / W, 1 - 22 / H, "AOPR Coordinate changes - CA plate is fixed",
         ha="center", va="center", fontsize=16, family=SANS, color="#111111")
fig.text(1135 / W, 1 - 18 / H, "AOPR Coordinate changes - NA plate is fixed",
         ha="center", va="center", fontsize=16, family=SANS, color="#111111")

# y labels
for x, axes in [(26, (ax1, ax2, ax3)), (780, (ax4, ax5, ax6))]:
    for ax, lab in zip(axes, ["Latitude (mm)", "Longitude (mm)", "Vertical (mm)"]):
        pos = ax.get_position()
        fig.text(x / W, (pos.y0 + pos.y1) / 2, lab, rotation=90, ha="center",
                 va="center", fontsize=14, fontweight="bold", family=SERIF)

# footer stamps
for x0, stamp, letter, lx, ly in [(8, "2011 Oct 17 18:49:47", "a", 345, 899),
                                  (760, "2011 Oct 17 18:53:45", "b", 1128, 903)]:
    yy = 1 - 909 / H
    fig.text(x0 / W, yy, " GMT  ", ha="left", va="center", fontsize=8,
             fontweight="bold", family=SANS, color="white",
             bbox=dict(boxstyle="square,pad=0.15", fc="black", ec="black"))
    fig.text((x0 + 39) / W, yy, " " + stamp + " ", ha="left", va="center",
             fontsize=8.3, family=SANS, color="#222222",
             bbox=dict(boxstyle="square,pad=0.15", fc="white", ec="black", lw=0.6))
    fig.text((x0 + 162) / W, yy, "Mattioli/UARK", ha="left", va="center",
             fontsize=7, fontweight="bold", family=SANS)
    fig.text(lx / W, 1 - ly / H, letter, ha="center", va="center",
             fontsize=11, family=SANS, color="#333333")

fig.savefig("out.png", dpi=100)
